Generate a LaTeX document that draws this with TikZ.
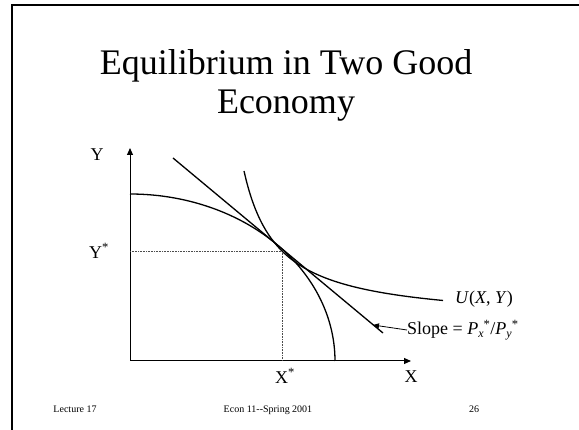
\documentclass[tikz,border=0pt]{standalone}
\usepackage{fontspec}
\setmainfont{Liberation Serif}
\usetikzlibrary{arrows.meta}
\tikzset{
  frameline/.style={line width=2pt},
  axisline/.style={line width=1pt,-{Triangle[length=7pt,width=6pt]}},
  curveline/.style={line width=1.3pt},
  guide/.style={line width=0.6pt,densely dotted,black!70},
  lbl/.style={font=\fontsize{18}{20}\selectfont,inner sep=0pt},
  foot/.style={font=\fontsize{10}{12}\selectfont,inner sep=0pt,anchor=base},
  titletext/.style={font=\fontsize{36}{40}\selectfont,inner sep=0pt,anchor=base}
}
\begin{document}
\begin{tikzpicture}[x=1pt,y=-1pt]
\useasboundingbox (0,0) rectangle (579,430);
% frame
\coordinate (fa) at (12,431);
\coordinate (fb) at (12,5);
\coordinate (fc) at (580,5);
\draw[frameline] (fa) -- (fb) -- (fc);
% title
\node[titletext] (t1) at (286,75) {Equilibrium in Two Good};
\node[titletext] (t2) at (286,114) {Economy};
% axes
\coordinate (O) at (130,361);
\coordinate (Ytop) at (130,148);
\coordinate (Xend) at (411,361);
\draw[axisline] (O) -- (Ytop);
\draw[axisline] (O) -- (Xend);
% equilibrium
\coordinate (E) at (282,251);
\coordinate (Ey) at (130,251);
\coordinate (Ex) at (282,361);
\draw[guide] (Ey) -- (E) -- (Ex);
% PPF
\draw[curveline] plot[domain=90:0,samples=80,smooth] ({130+205*cos(\x)},{361-167*sin(\x)});
% budget / price line
\coordinate (L1) at (173,158);
\coordinate (L2) at (383,333);
\draw[curveline] (L1) -- (L2);
% indifference curve
\draw[curveline] plot[domain=244:443,samples=80,smooth] (\x,{322.6-5155/(\x-210)});
% labels
\node[lbl] (ly) at (97,155) {Y};
\node[lbl] (lys) at (99,251) {Y\textsuperscript{*}};
\node[lbl] (lxs) at (285,376) {X\textsuperscript{*}};
\node[lbl] (lx) at (411,377) {X};
\node[lbl,anchor=west] (lu) at (455,299) {\textit{U}(\textit{X}, \textit{Y})};
\node[lbl,anchor=west] (ls) at (407,330) {Slope = \textit{P}\raisebox{-0.35ex}{\fontsize{12}{12}\selectfont\textit{x}}\textsuperscript{*}/\textit{P}\raisebox{-0.35ex}{\fontsize{12}{12}\selectfont\textit{y}}\textsuperscript{*}};
\coordinate (ar) at (373,325);
\draw[line width=0.8pt,-{Triangle[length=6pt,width=5pt]}] (ls.west) -- (ar);
% footer
\node[foot] (f1) at (75,413) {Lecture 17};
\node[foot] (f2) at (268,413) {Econ 11{-}{-}Spring 2001};
\node[foot] (f3) at (474,413) {26};
\end{tikzpicture}
\end{document}
